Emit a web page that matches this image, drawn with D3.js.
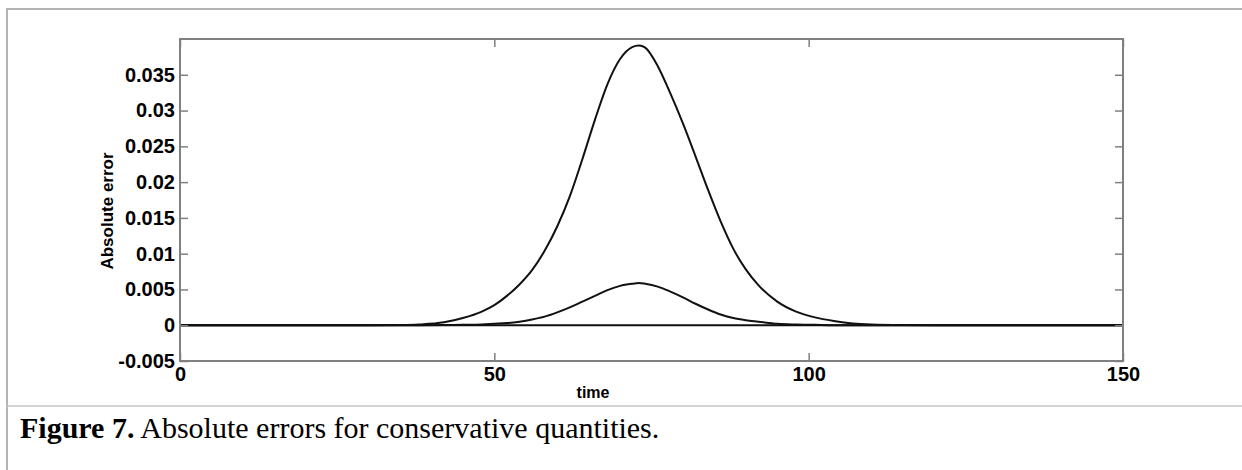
<!DOCTYPE html>
<meta charset="utf-8">
<style>
body { margin: 0; background: #fff; }
.tick text { font-family: "Liberation Sans", Arial, sans-serif; font-weight: bold; font-size: 20px; fill: #000; }
.tick line { stroke: #808080; stroke-width: 1.5; }
.curve { fill: none; stroke: #111; stroke-width: 2; }
</style>
<body>
<script src="https://d3js.org/d3.v7.min.js"></script>
<script>

// time samples
var times = [0, 10, 20, 30, 35, 38, 42, 45, 48, 50, 52, 54, 56, 58, 60, 62, 64, 66, 68, 70, 72, 73, 74, 76, 78, 80, 82, 84, 86, 88, 90, 92, 95, 98, 101, 104, 107, 110, 115, 120, 130, 140, 150];

// larger error curve
var errBig = [0, 0, 0, 0, 0.00003, 0.0001, 0.0004, 0.001, 0.0019, 0.0028, 0.0041, 0.0057, 0.0077, 0.0104, 0.0138, 0.018, 0.0232, 0.0287, 0.0337, 0.0372, 0.0389, 0.0391, 0.0388, 0.0362, 0.0324, 0.0282, 0.0236, 0.0189, 0.0145, 0.0107, 0.0078, 0.0056, 0.0033, 0.0019, 0.0011, 0.0006, 0.00025, 0.0001, 0.00002, 0, 0, 0, 0];

// smaller error curve
var errSmall = [0, 0, 0, 0, 0, 0, 0.00003, 0.00005, 0.0001, 0.0002, 0.0003, 0.0005, 0.0008, 0.0012, 0.0018, 0.0025, 0.0033, 0.0041, 0.0049, 0.0055, 0.0058, 0.0059, 0.0058, 0.0054, 0.0047, 0.0039, 0.003, 0.0022, 0.0015, 0.001, 0.0007, 0.0005, 0.0002, 0.0001, 0.00005, 0, 0, 0, 0, 0, 0, 0, 0];

// remaining quantities stay at zero
var errFlat = [0, 0, 0, 0, 0, 0, 0, 0, 0, 0, 0, 0, 0, 0, 0, 0, 0, 0, 0, 0, 0, 0, 0, 0, 0, 0, 0, 0, 0, 0, 0, 0, 0, 0, 0, 0, 0, 0, 0, 0, 0, 0, 0];

var xTicks = [0, 50, 100, 150];
var yTicks = [-0.005, 0, 0.005, 0.01, 0.015, 0.02, 0.025, 0.03, 0.035];

var W = 1242, H = 470;
var plotL = 180, plotR = 1123, plotT = 39, plotB = 361;

var svg = d3.select("body").append("svg")
    .attr("width", W)
    .attr("height", H);

svg.append("rect").attr("width", W).attr("height", H).attr("fill", "#fff");

// page frame + caption separator
svg.append("path")
    .attr("d", "M" + W + ",9 H7 V" + H)
    .attr("fill", "none").attr("stroke", "#b4b4b4").attr("stroke-width", 2);
svg.append("line")
    .attr("x1", 7).attr("x2", W).attr("y1", 406).attr("y2", 406)
    .attr("stroke", "#c4c4c4").attr("stroke-width", 1.5);

var x = d3.scaleLinear().domain([0, 150]).range([plotL, plotR]);
var y = d3.scaleLinear().domain([-0.005, 0.04]).range([plotB, plotT]);

svg.append("clipPath").attr("id", "clip")
  .append("rect").attr("x", plotL).attr("y", plotT).attr("width", plotR - plotL).attr("height", plotB - plotT);

var line = d3.line()
    .x(function(d) { return x(d[0]); })
    .y(function(d) { return y(d[1]); })
    .curve(d3.curveMonotoneX);

[errFlat, errSmall, errBig].forEach(function(s) {
  svg.append("path")
      .datum(times.map(function(t, i) { return [t, s[i]]; }))
      .attr("class", "curve")
      .attr("clip-path", "url(#clip)")
      .attr("d", line);
});

// axes, ticks pointing inward
svg.append("g")
    .attr("transform", "translate(" + plotL + ",0)")
    .call(d3.axisLeft(y).tickValues(yTicks).tickSizeInner(-8).tickSizeOuter(0).tickPadding(5)
      .tickFormat(function(d) { return String(d); }))
    .call(function(g) { g.select(".domain").remove(); });

svg.append("g")
    .attr("transform", "translate(" + plotR + ",0)")
    .call(d3.axisRight(y).tickValues(yTicks).tickSizeInner(-8).tickSizeOuter(0).tickFormat(""))
    .call(function(g) { g.select(".domain").remove(); });

svg.append("g")
    .attr("transform", "translate(0," + plotB + ")")
    .call(d3.axisBottom(x).tickValues(xTicks).tickSizeInner(-8).tickSizeOuter(0).tickPadding(6)
      .tickFormat(function(d) { return String(d); }))
    .call(function(g) { g.select(".domain").remove(); });

svg.append("g")
    .attr("transform", "translate(0," + plotT + ")")
    .call(d3.axisTop(x).tickValues(xTicks).tickSizeInner(-8).tickSizeOuter(0).tickFormat(""))
    .call(function(g) { g.select(".domain").remove(); });

svg.append("rect")
    .attr("x", plotL).attr("y", plotT)
    .attr("width", plotR - plotL).attr("height", plotB - plotT)
    .attr("fill", "none").attr("stroke", "#808080").attr("stroke-width", 2);

// axis titles
svg.append("text")
    .attr("x", 593).attr("y", 398)
    .attr("text-anchor", "middle")
    .style("font-family", "'Liberation Sans', Arial, sans-serif")
    .style("font-weight", "bold").style("font-size", "16px")
    .text("time");

svg.append("text")
    .attr("transform", "translate(113,211) rotate(-90)")
    .attr("text-anchor", "middle")
    .style("font-family", "'Liberation Sans', Arial, sans-serif")
    .style("font-weight", "bold").style("font-size", "17px")
    .text("Absolute error");

// caption
var cap = svg.append("text")
    .attr("x", 20).attr("y", 438)
    .style("font-family", "'Liberation Serif', 'Times New Roman', serif")
    .style("font-size", "30px");
cap.append("tspan").style("font-weight", "bold").text("Figure 7.");
cap.append("tspan").text(" Absolute errors for conservative quantities.");

</script>
</body>
